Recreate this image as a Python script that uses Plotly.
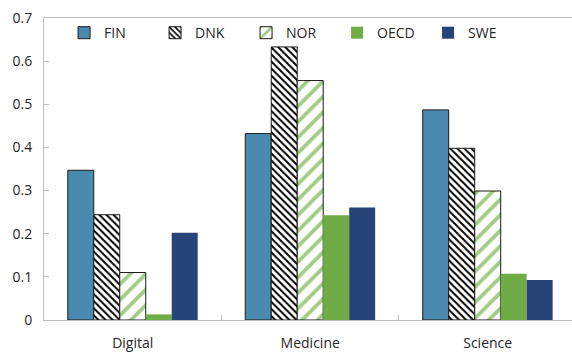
import plotly.graph_objects as go

# Field categories on the x axis
categories = ["Digital", "Medicine", "Science"]

# Share by country / OECD average for each field
fin = [0.347, 0.432, 0.487]
dnk = [0.244, 0.633, 0.398]
nor = [0.110, 0.555, 0.299]
oecd = [0.013, 0.243, 0.107]
swe = [0.202, 0.261, 0.093]

y_ticks = [0, 0.1, 0.2, 0.3, 0.4, 0.5, 0.6, 0.7]

FONT = "Open Sans, Noto Sans, sans-serif"
TEXT = "#262626"

fig = go.Figure()

fig.add_trace(go.Bar(
    name="FIN", x=categories, y=fin,
    marker=dict(color="#4A8AAE", line=dict(color="#1a1a1a", width=1)),
))
fig.add_trace(go.Bar(
    name="DNK", x=categories, y=dnk,
    marker=dict(
        color="white",
        line=dict(color="#1a1a1a", width=1),
        pattern=dict(shape="\\", fgcolor="black", bgcolor="white",
                     size=5, solidity=0.4, fillmode="replace"),
    ),
))
fig.add_trace(go.Bar(
    name="NOR", x=categories, y=nor,
    marker=dict(
        color="white",
        line=dict(color="#1a1a1a", width=1),
        pattern=dict(shape="/", fgcolor="#A3CB87", bgcolor="white",
                     size=11, solidity=0.35, fillmode="replace"),
    ),
))
fig.add_trace(go.Bar(
    name="OECD", x=categories, y=oecd,
    marker=dict(color="#6FAC46", line=dict(width=0)),
))
fig.add_trace(go.Bar(
    name="SWE", x=categories, y=swe,
    marker=dict(color="#264478", line=dict(width=0)),
))

fig.update_layout(
    width=572, height=352,
    margin=dict(l=44, r=0, t=18, b=32),
    paper_bgcolor="white", plot_bgcolor="white",
    barmode="group", bargap=0.268, bargroupgap=0,
    font=dict(family=FONT, size=14, color=TEXT),
    showlegend=True,
    legend=dict(
        orientation="h", x=0.038, y=0.95, xanchor="left", yanchor="middle",
        bgcolor="rgba(0,0,0,0)", font=dict(size=14, color=TEXT),
        entrywidth=46, entrywidthmode="pixels",
        traceorder="normal", itemclick=False,
    ),
    xaxis=dict(
        type="category", range=[-0.5, 2.475],
        showline=True, linecolor="#BFBFBF", linewidth=1, mirror=True,
        ticks="inside", tickson="boundaries", ticklen=5, tickcolor="#BFBFBF",
        showgrid=False, tickfont=dict(size=14, color=TEXT),
        ticklabelstandoff=10,
    ),
    yaxis=dict(
        range=[0, 0.7], tickvals=y_ticks,
        showline=True, linecolor="#BFBFBF", linewidth=1, mirror=True,
        ticks="inside", ticklen=5, tickcolor="#BFBFBF",
        showgrid=False, zeroline=False, ticklabelstandoff=8,
        tickfont=dict(size=14, color=TEXT),
    ),
)

fig.write_html("out.html")
